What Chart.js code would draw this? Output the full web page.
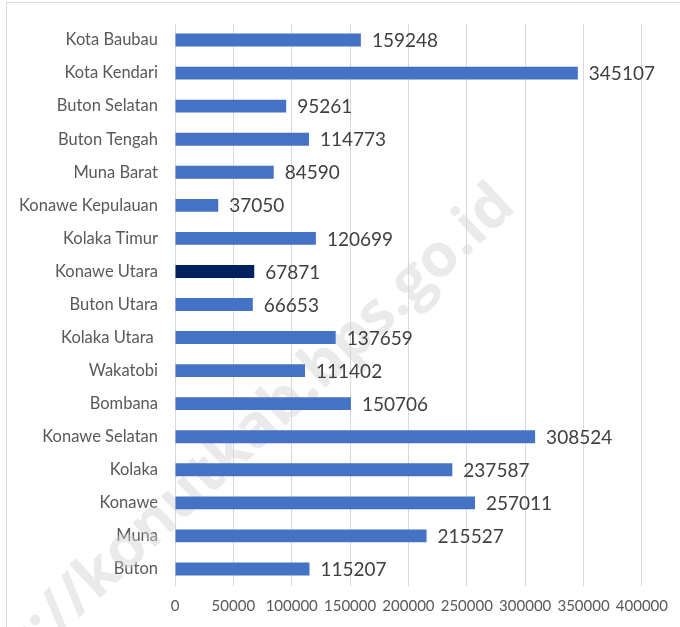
<!DOCTYPE html>
<html>
<head>
<meta charset="utf-8">
<script src="https://cdn.jsdelivr.net/npm/chart.js@4.4.1/dist/chart.umd.min.js"></script>
<style>
  html, body { margin: 0; padding: 0; background: #ffffff; }
  #wrap { position: relative; width: 680px; height: 627px; overflow: hidden; }
  #frame { position: absolute; left: 6px; top: 2px; width: 700px; height: 700px;
           border-top: 1px solid #d9d9d9; border-left: 1px solid #d9d9d9; pointer-events: none; }
  canvas { position: absolute; left: 0; top: 0; }
</style>
</head>
<body>
<div id="wrap">
  <canvas id="popChart" width="680" height="627"></canvas>
  <div id="frame"></div>
</div>
<script>
// Jumlah penduduk per kabupaten/kota
const kabupaten = [
  'Kota Baubau', 'Kota Kendari', 'Buton Selatan', 'Buton Tengah', 'Muna Barat',
  'Konawe Kepulauan', 'Kolaka Timur', 'Konawe Utara', 'Buton Utara', 'Kolaka Utara ',
  'Wakatobi', 'Bombana', 'Konawe Selatan', 'Kolaka', 'Konawe', 'Muna', 'Buton'
];
const penduduk = [
  159248, 345107, 95261, 114773, 84590,
  37050, 120699, 67871, 66653, 137659,
  111402, 150706, 308524, 237587, 257011, 215527, 115207
];
const sorotan = 'Konawe Utara';
const xTicks = [0, 50000, 100000, 150000, 200000, 250000, 300000, 350000, 400000];

const BIRU = '#4472c4';
const NAVY = '#002060';

// watermark di belakang batang
const watermark = {
  id: 'watermark',
  beforeDatasetsDraw(chart) {
    const ctx = chart.ctx;
    ctx.save();
    ctx.font = 'bold 60px "Open Sans", sans-serif';
    ctx.fillStyle = 'rgba(205,205,205,0.42)';
    ctx.textBaseline = 'alphabetic';
    const pre = 'https://';
    const preW = ctx.measureText(pre).width;
    ctx.translate(97, 601);
    ctx.rotate(-43 * Math.PI / 180);
    ctx.fillText(pre + 'konutkab.bps.go.id', -preW, 0);
    ctx.restore();
  }
};

// angka di ujung batang
const nilaiLabel = {
  id: 'nilaiLabel',
  afterDatasetsDraw(chart) {
    const ctx = chart.ctx;
    const meta = chart.getDatasetMeta(0);
    ctx.save();
    ctx.font = '19px Lato, sans-serif';
    ctx.fillStyle = '#404040';
    ctx.textAlign = 'left';
    ctx.textBaseline = 'middle';
    meta.data.forEach((bar, i) => {
      ctx.fillText(String(penduduk[i]), bar.x + 11, bar.y + 1);
    });
    ctx.restore();
  }
};

new Chart(document.getElementById('popChart'), {
  type: 'bar',
  data: {
    labels: kabupaten,
    datasets: [{
      data: penduduk,
      backgroundColor: kabupaten.map(k => k === sorotan ? NAVY : BIRU),
      borderWidth: 0,
      barPercentage: 0.39,
      categoryPercentage: 1
    }]
  },
  options: {
    indexAxis: 'y',
    responsive: false,
    animation: false,
    layout: { padding: { top: 23.5, right: 36, left: 0, bottom: 0 } },
    plugins: {
      legend: { display: false },
      tooltip: { enabled: false }
    },
    scales: {
      x: {
        min: 0,
        max: 400000,
        afterBuildTicks(scale) {
          scale.ticks = xTicks.map(v => ({ value: v }));
        },
        afterFit(scale) { scale.height = 41.5; },
        grid: { color: '#d9d9d9', lineWidth: 1, drawTicks: false },
        border: { display: false },
        ticks: {
          color: '#595959',
          font: { family: 'Lato', size: 15 },
          padding: 12,
          maxRotation: 0,
          autoSkip: false,
          callback: v => String(v)
        }
      },
      y: {
        afterFit(scale) {
          scale.width = 175;
          scale.paddingTop = 0;
          scale.paddingBottom = 0;
        },
        grid: { display: false, drawTicks: false },
        border: { display: false },
        ticks: {
          color: '#595959',
          font: { family: 'Lato', size: 16.5 },
          padding: 17,
          autoSkip: false
        }
      }
    }
  },
  plugins: [watermark, nilaiLabel]
});
</script>
</body>
</html>
